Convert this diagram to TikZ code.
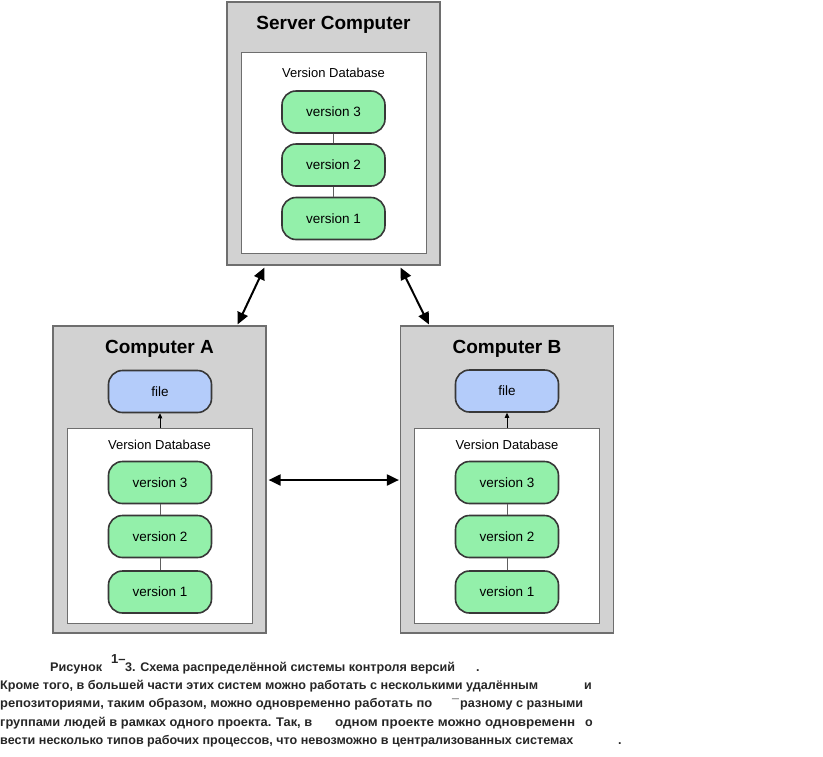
\documentclass[tikz,border=0pt]{standalone}
\usepackage{fontspec}
\setmainfont{Liberation Sans}
\newfontfamily\capfont{Liberation Sans}
\usetikzlibrary{arrows.meta,calc}
\definecolor{boxgray}{HTML}{D2D2D2}
\definecolor{boxline}{HTML}{6E6E6E}
\definecolor{pillgreen}{HTML}{93F0AA}
\definecolor{pillblue}{HTML}{B4CCFA}
\definecolor{pillline}{HTML}{383838}
\definecolor{captext}{HTML}{262626}
\newcommand\fitw[2]{\resizebox{#1}{\height}{#2}}
\begin{document}
\begin{tikzpicture}[x=1pt,y=-1pt,
  machine/.style={draw=boxline,line width=1.2pt,fill=boxgray,minimum width=213pt,inner sep=0pt},
  dbbox/.style={draw=boxline,line width=1pt,fill=white,minimum width=185pt,inner sep=0pt},
  pill/.style={draw=pillline,line width=1.6pt,fill=pillgreen,rounded corners=14pt,minimum width=103pt,minimum height=42pt,inner sep=0pt,font=\fontsize{13.5}{15}\selectfont},
  filepill/.style={pill,fill=pillblue},
  boxtitle/.style={font=\fontsize{19}{22}\selectfont\bfseries,inner sep=0pt},
  dblabel/.style={font=\fontsize{13}{15}\selectfont,inner sep=0pt},
  link/.style={draw=pillline!80,line width=0.8pt},
  sync/.style={line width=2pt,{Triangle[length=12pt,width=11pt]}-{Triangle[length=12pt,width=11pt]}},
  getfile/.style={line width=0.9pt,-{Triangle[length=5pt,width=4.5pt]}},
  captxt/.style={anchor=base west,inner sep=0pt,text=captext,font=\capfont\bfseries\fontsize{12.5}{15}\selectfont}]
\useasboundingbox (0,0) rectangle (823,756);

% Server
\node[machine,minimum height=263pt] (server) at (333.5,133.5) {};
\node[boxtitle] (stitle) at (333.5,25) {Server Computer};
\node[dbbox,minimum height=201pt] (sdb) at (333.5,152.5) {};
\node[dblabel] (sdbl) at (333.5,73) {Version Database};
\node[pill] (s3) at (333.5,112) {version 3};
\node[pill] (s2) at (333.5,165) {version 2};
\node[pill] (s1) at (333.5,218.5) {version 1};
\draw[link] (s3) -- (s2);
\draw[link] (s2) -- (s1);

% Computer A
\node[machine,minimum height=307pt] (ca) at (159.5,479.5) {};
\node[boxtitle] (atitle) at (159.5,349) {Computer A};
\node[filepill] (afile) at (160,391.5) {file};
\node[dbbox,minimum height=195pt] (adb) at (159.5,525.5) {};
\node[dblabel] (adbl) at (159.5,445) {Version Database};
\node[pill] (a3) at (160,482.5) {version 3};
\node[pill] (a2) at (160,536.5) {version 2};
\node[pill] (a1) at (160,592) {version 1};
\draw[link] (a3) -- (a2);
\draw[link] (a2) -- (a1);
\draw[getfile] (adb.north -| afile.south) -- (afile.south);

% Computer B
\node[machine,minimum height=307pt] (cb) at (507,479.5) {};
\node[boxtitle] (btitle) at (507,349) {Computer B};
\node[filepill] (bfile) at (507,391) {file};
\node[dbbox,minimum height=195pt] (bdb) at (507,525.5) {};
\node[dblabel] (bdbl) at (507,445) {Version Database};
\node[pill] (b3) at (507,482.5) {version 3};
\node[pill] (b2) at (507,536.5) {version 2};
\node[pill] (b1) at (507,592) {version 1};
\draw[link] (b3) -- (b2);
\draw[link] (b2) -- (b1);
\draw[getfile] (bdb.north -| bfile.south) -- (bfile.south);

% sync arrows
\draw[sync] ($(server.south west)+(38,2)$) -- ($(ca.north east)+(-29,-1)$);
\draw[sync] ($(server.south east)+(-40,2)$) -- ($(cb.north west)+(29,-1)$);
\draw[sync] ($(ca.east)+(2,0.5)$) -- ($(cb.west)+(-1,0.5)$);

% caption text
\node[captxt] (c1a) at (50,671) {\fitw{52pt}{Рисунок}};
\node[captxt,font=\capfont\bfseries\fontsize{13}{15}\selectfont] (c1b) at (111,663) {1–};
\node[captxt] (c1c) at (125,671) {\fitw{330pt}{3. Схема распределённой системы контроля версий}};
\node[captxt] (c1d) at (476,671) {.};
\node[captxt] (c2a) at (0,689) {\fitw{538pt}{Кроме того, в большей части этих систем можно работать с несколькими удалённым}};
\node[captxt] (c2b) at (584,689) {и};
\node[captxt] (c3a) at (0,707) {\fitw{432pt}{репозиториями, таким образом, можно одновременно работать по}};
\node[captxt] (c3b) at (452,708) {¯};
\node[captxt] (c3c) at (460,707) {\fitw{123pt}{разному с разными}};
\node[captxt] (c4a) at (0,726) {\fitw{312pt}{группами людей в рамках одного проекта. Так, в}};
\node[captxt] (c4b) at (335,726) {\fitw{240pt}{одном проекте можно одновременн}};
\node[captxt] (c4c) at (585,726) {о};
\node[captxt] (c5a) at (0,744) {\fitw{573pt}{вести несколько типов рабочих процессов, что невозможно в централизованных системах}};
\node[captxt] (c5b) at (618,744) {.};
\end{tikzpicture}
\end{document}
